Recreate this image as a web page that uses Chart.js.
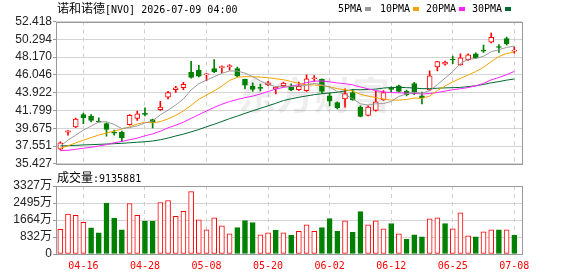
<!DOCTYPE html>
<html>
<head>
<meta charset="utf-8">
<script src="https://cdn.jsdelivr.net/npm/chart.js@4.4.1/dist/chart.umd.min.js"></script>
<style>
  html, body { margin: 0; padding: 0; background: #fff; }
  #wrap { position: relative; width: 578px; height: 276px; overflow: hidden; }
  #main { position: absolute; left: 0; top: 0; }
  #vol { position: absolute; left: 0; top: 172px; }
  .txt { position: absolute; white-space: nowrap; color: #000; line-height: 14px; }
  .cjk { font-family: "Noto Sans CJK SC"; font-size: 12px; }
  .mono { font-family: "DejaVu Sans Mono"; font-size: 10px; }
  .key { position: absolute; width: 6px; height: 4px; }
</style>
</head>
<body>
<div id="wrap">
  <canvas id="main" width="578" height="172"></canvas>
  <canvas id="vol" width="578" height="104"></canvas>
  <div class="txt" style="left:57px;top:1px"><span class="cjk">诺和诺德</span><span class="mono">[NVO] 2026-07-09 04:00</span></div>
  <div class="txt mono" style="left:338px;top:2px">5PMA</div>
  <div class="key" style="left:365px;top:7px;background:#999"></div>
  <div class="txt mono" style="left:380px;top:2px">10PMA</div>
  <div class="key" style="left:413px;top:7px;background:#f5a300"></div>
  <div class="txt mono" style="left:426px;top:2px">20PMA</div>
  <div class="key" style="left:459px;top:7px;background:#ff20ff"></div>
  <div class="txt mono" style="left:472px;top:2px">30PMA</div>
  <div class="key" style="left:505px;top:7px;background:#006a30"></div>
  <div class="txt" style="left:57px;top:170px"><span class="cjk">成交量</span><span class="mono">:9135881</span></div>
</div>
<script>
const dates = ['04-13','04-14','04-15','04-16','04-17','04-20','04-21','04-22','04-23','04-24',
  '04-27','04-28','04-29','04-30','05-01','05-04','05-05','05-06','05-07','05-08',
  '05-11','05-12','05-13','05-14','05-15','05-18','05-19','05-20','05-21','05-22',
  '05-26','05-27','05-28','05-29','06-01','06-02','06-03','06-04','06-05','06-08',
  '06-09','06-10','06-11','06-12','06-15','06-16','06-17','06-18','06-22','06-23',
  '06-24','06-25','06-26','06-29','06-30','07-01','07-02','07-06','07-07','07-08'];

const opens = [37.16,39.21,39.83,41.29,41.09,40.54,40.23,39.17,39.17,40.11,
  40.85,41.41,40.70,41.88,43.37,44.28,44.51,46.36,46.60,46.05,
  46.79,46.91,47.03,46.79,45.50,44.71,44.55,44.87,44.39,44.75,
  44.63,44.28,44.16,45.58,45.50,43.53,42.74,43.18,43.92,42.19,
  41.21,41.80,43.06,44.39,44.75,44.08,45.02,43.53,44.24,46.99,
  47.33,47.89,47.23,47.86,48.56,48.99,49.94,49.39,50.37,48.88];
const highs = [38.06,39.40,40.89,41.48,41.29,40.93,40.31,39.44,39.32,41.29,
  41.72,42.11,40.78,42.90,44.08,44.67,45.14,47.66,47.19,46.20,
  47.86,47.11,47.27,46.99,45.54,45.10,44.94,45.26,44.63,45.18,
  44.94,45.18,46.05,45.97,45.58,43.84,42.82,44.39,44.32,42.35,
  42.35,44.08,44.16,44.63,44.83,44.24,45.14,44.00,46.52,47.66,
  47.70,48.29,48.56,48.56,48.68,49.59,51.04,49.67,50.57,49.35];
const lows = [37.08,38.85,39.75,40.23,40.42,40.38,38.73,38.85,38.06,40.03,
  40.62,41.13,39.72,41.80,43.18,43.96,44.28,45.65,45.81,45.34,
  46.32,46.32,46.60,45.81,44.36,44.08,44.12,44.75,43.76,44.63,
  44.16,44.20,44.08,45.26,43.84,42.35,41.99,42.19,42.98,41.01,
  41.13,41.72,42.98,43.92,44.00,43.53,43.69,42.59,44.16,46.52,
  47.19,47.38,47.19,47.78,48.01,48.72,49.86,48.72,49.59,48.64];
const closes = [37.94,39.36,40.78,40.93,40.62,40.42,39.52,39.09,38.53,41.21,
  41.38,41.33,40.31,42.19,43.92,44.51,44.91,45.73,45.89,46.12,
  46.44,46.99,47.11,45.89,44.83,44.32,44.43,45.10,44.55,45.06,
  44.24,44.67,45.58,45.65,44.08,42.90,42.11,43.80,43.06,41.09,
  42.19,42.82,43.92,44.32,44.08,43.69,43.84,43.29,45.93,47.62,
  47.56,47.82,48.09,48.45,48.09,48.88,50.53,49.31,49.78,48.96];

// volume in 万 shares, and day direction (1 up, -1 down) as coloured in the volume panel
const volumes = [1211,1954,1890,1550,1276,1034,2487,1760,1179,2471,
  1890,1615,1615,2519,2616,1841,2083,3052,1672,1185,
  1769,1380,990,1298,1639,1542,941,1039,1152,1039,
  909,1104,1428,1104,1298,1737,1104,1623,1055,2077,
  1428,1623,1233,1493,990,714,941,844,1720,1769,
  1493,1233,2012,893,844,1087,1185,1185,1185,914];
const volDir = [1,1,1,1,-1,-1,-1,-1,-1,1,
  1,-1,-1,1,1,1,1,1,1,1,
  1,1,1,-1,-1,-1,1,1,-1,1,
  -1,1,1,1,-1,-1,-1,1,-1,-1,
  1,1,1,-1,1,-1,-1,-1,1,1,
  -1,1,1,1,-1,1,1,-1,1,-1];

const ma5 = [37.55,38.26,38.85,39.44,39.93,40.42,40.45,40.12,39.64,39.75,
  39.95,40.31,40.55,41.28,41.83,42.45,43.17,44.25,44.99,45.43,
  45.82,46.23,46.51,46.51,46.25,45.83,45.32,44.91,44.65,44.69,
  44.68,44.72,44.82,45.04,44.84,44.58,44.06,43.71,43.19,42.59,
  42.45,42.59,42.62,42.87,43.47,43.77,43.97,43.84,44.17,44.87,
  45.65,46.44,47.40,47.91,48.00,48.27,48.81,49.05,49.32,49.49];
const ma10 = [37.28,37.58,37.92,38.25,38.56,38.86,39.10,39.32,39.58,39.84,
  40.18,40.38,40.33,40.46,40.79,41.20,41.74,42.40,43.14,43.63,
  44.14,44.70,45.38,45.75,45.84,45.82,45.78,45.71,45.58,45.47,
  45.25,45.02,44.87,44.84,44.77,44.63,44.39,44.26,44.12,43.72,
  43.51,43.33,43.16,43.03,43.03,43.11,43.28,43.23,43.52,44.17,
  44.71,45.21,45.62,46.04,46.44,46.96,47.63,48.23,48.61,48.75];
const ma20 = [37.00,37.04,37.16,37.28,37.40,37.55,37.71,37.94,38.10,38.30,
  38.49,38.77,39.00,39.32,39.72,40.03,40.40,40.85,41.30,41.73,
  42.16,42.54,42.86,43.11,43.32,43.51,43.76,44.06,44.36,44.55,
  44.69,44.86,45.12,45.30,45.31,45.22,45.08,44.99,44.85,44.60,
  44.38,44.17,44.01,43.94,43.90,43.87,43.84,43.75,43.82,43.94,
  44.11,44.27,44.39,44.53,44.73,45.03,45.45,45.73,46.07,46.46];
const ma30 = [37.55,37.60,37.63,37.68,37.71,37.75,37.79,37.83,37.87,37.94,
  38.00,38.06,38.15,38.30,38.50,38.75,38.97,39.24,39.52,39.85,
  40.15,40.48,40.82,41.12,41.45,41.75,42.05,42.35,42.65,42.98,
  43.19,43.37,43.53,43.68,43.80,43.88,43.97,44.13,44.28,44.27,
  44.30,44.35,44.47,44.54,44.55,44.52,44.48,44.40,44.40,44.45,
  44.49,44.52,44.55,44.64,44.75,44.90,45.10,45.24,45.42,45.55];

const priceTicks = ['35.427','37.551','39.675','41.799','43.922','46.046','48.170','50.294','52.418'];
const priceMin = 35.427, priceMax = 52.418;
const volTicks = ['0','832万','1664万','2495万','3327万'];
const volMax = 3327;
const dateTickIdx = [3, 11, 19, 27, 35, 43, 51, 59];

const RED = '#ff0000', GREEN = '#008000';
const up = closes.map((c, i) => c >= opens[i]);
const volUp = volDir.map((d) => d > 0);

const xRange = { min: -0.56, max: 60.0 };

const frame = {
  id: 'frame',
  beforeDatasetsDraw(chart, args, opts) {
    if (!opts.mark) return;
    const ctx = chart.ctx;
    ctx.save();
    ctx.font = 'bold 38px "Noto Sans CJK SC"';
    ctx.fillStyle = 'rgba(0,0,0,0.065)';
    ctx.textAlign = 'left';
    ctx.textBaseline = 'middle';
    ctx.fillText('东方财富', 238, 95);
    ctx.restore();
  },
  afterDraw(chart) {
    const a = chart.chartArea, ctx = chart.ctx;
    ctx.save();
    ctx.strokeStyle = '#999';
    ctx.lineWidth = 1;
    const l = Math.round(a.left) + 0.5, t = Math.round(a.top) + 0.5;
    ctx.strokeRect(l, t, Math.round(a.right) - Math.round(a.left), Math.round(a.bottom) - Math.round(a.top));
    ctx.restore();
  }
};

const maLine = (label, data, color) => ({
  type: 'line',
  label,
  data: data.map((v, i) => ({ x: i, y: v })),
  borderColor: color,
  borderWidth: 1,
  pointRadius: 0,
  tension: 0,
  order: 0,
});

const xDash = {
  type: 'linear',
  offset: false,
  min: xRange.min,
  max: xRange.max,
  afterBuildTicks: (s) => { s.ticks = dateTickIdx.map((v) => ({ value: v })); },
  grid: { color: '#cfcfcf', drawTicks: false, offset: false },
  border: { display: false, dash: [4, 4] },
};

new Chart(document.getElementById('main'), {
  type: 'bar',
  data: {
    datasets: [
      maLine('5PMA', ma5, '#9a9a9a'),
      maLine('10PMA', ma10, '#f5a300'),
      maLine('20PMA', ma20, '#ff20ff'),
      maLine('30PMA', ma30, '#006a30'),
      {
        label: 'body',
        data: dates.map((d, i) => ({ x: i, y: [opens[i], closes[i]] })),
        backgroundColor: up.map((u) => (u ? '#ffffff' : GREEN)),
        borderColor: up.map((u) => (u ? RED : GREEN)),
        borderWidth: 1,
        borderSkipped: false,
        barThickness: 5,
        minBarLength: 1,
        grouped: false,
        order: 1,
      },
      {
        label: 'wick',
        data: dates.map((d, i) => ({ x: i, y: [lows[i], highs[i]] })),
        backgroundColor: up.map((u) => (u ? RED : GREEN)),
        barThickness: 1,
        grouped: false,
        order: 2,
      },
    ],
  },
  options: {
    responsive: false,
    animation: false,
    layout: { padding: { left: 0, right: 56, top: 21.5, bottom: 7.5 } },
    plugins: { legend: { display: false }, tooltip: { enabled: false }, frame: { mark: true } },
    scales: {
      x: Object.assign({}, xDash, {
        ticks: { display: false },
        afterFit: (s) => { s.height = 0; },
      }),
      y: {
        min: priceMin,
        max: priceMax,
        afterBuildTicks: (s) => {
          s.ticks = priceTicks.map((t, k) => ({ value: priceMin + k * (priceMax - priceMin) / 8 }));
        },
        afterFit: (s) => { s.width = 56; },
        ticks: {
          autoSkip: false,
          callback: (v, idx) => priceTicks[idx],
          color: '#222',
          padding: 1,
          font: { family: '"Liberation Sans"', size: 12 },
        },
        grid: { color: '#d4d4d4', tickLength: 3, tickColor: '#999' },
        border: { display: false },
      },
    },
  },
  plugins: [frame],
});

new Chart(document.getElementById('vol'), {
  type: 'bar',
  data: {
    datasets: [
      {
        label: 'volume',
        data: volumes.map((v, i) => ({ x: i, y: v })),
        backgroundColor: volUp.map((u) => (u ? '#ffffff' : GREEN)),
        borderColor: volUp.map((u) => (u ? RED : GREEN)),
        borderWidth: 1,
        borderSkipped: false,
        barThickness: 5,
        grouped: false,
      },
    ],
  },
  options: {
    responsive: false,
    animation: false,
    layout: { padding: { left: 0, right: 56, top: 14, bottom: 0 } },
    plugins: { legend: { display: false }, tooltip: { enabled: false }, frame: { mark: false } },
    scales: {
      x: Object.assign({}, xDash, {
        ticks: {
          autoSkip: false,
          maxRotation: 0,
          padding: 6,
          color: RED,
          font: { family: '"DejaVu Sans Mono"', size: 10 },
          callback: (v) => dates[v],
        },
        afterFit: (s) => { s.height = 22; },
      }),
      y: {
        min: 0,
        max: volMax,
        afterBuildTicks: (s) => {
          s.ticks = volTicks.map((t, k) => ({ value: k * volMax / 4 }));
        },
        afterFit: (s) => { s.width = 56; },
        ticks: {
          autoSkip: false,
          callback: (v, idx) => volTicks[idx],
          color: '#222',
          padding: 1,
          font: { family: '"Liberation Sans", "Noto Sans CJK SC"', size: 12 },
        },
        grid: { color: '#d4d4d4', tickLength: 3, tickColor: '#999' },
        border: { display: false },
      },
    },
  },
  plugins: [frame],
});
</script>
</body>
</html>
